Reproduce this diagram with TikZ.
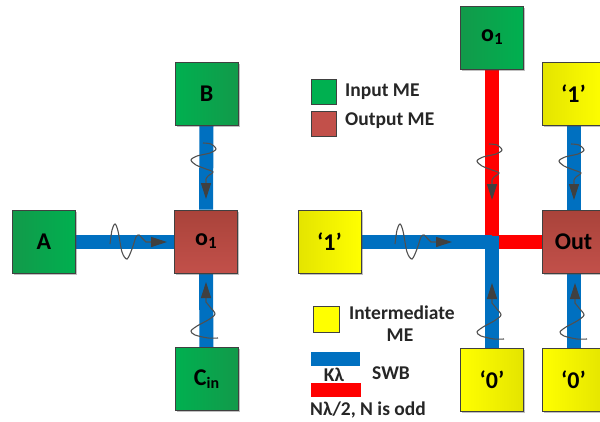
\documentclass[tikz,border=0pt]{standalone}
\usepackage{fontspec}
\setmainfont{Carlito}
\usetikzlibrary{shadows,arrows.meta,backgrounds}
\definecolor{gA}{HTML}{00B050}
\definecolor{gB}{HTML}{129A4A}
\definecolor{rA}{HTML}{A9433A}
\definecolor{rB}{HTML}{C2504A}
\definecolor{yA}{HTML}{FFFF00}
\definecolor{yB}{HTML}{E4E400}
\definecolor{edge}{HTML}{404040}
\definecolor{swb}{HTML}{0070C0}
\definecolor{wavec}{HTML}{505050}
\definecolor{tipc}{HTML}{404040}
\tikzset{
  me/.style={draw=edge, line width=0.8pt, minimum width=63pt, minimum height=63pt,
    inner sep=0pt, font=\fontsize{24}{24}\selectfont\bfseries,
    drop shadow={shadow xshift=1.5pt, shadow yshift=-1.5pt, opacity=0.35, fill=black!70}},
  inme/.style={me, left color=gB, right color=gA},
  inmeb/.style={me, left color=gA, right color=gB},
  outme/.style={me, top color=rA, bottom color=rB},
  midme/.style={me, left color=yB, right color=yA},
  midmeb/.style={me, left color=yA, right color=yB},
  swatch/.style={draw=edge, line width=0.8pt, inner sep=0pt, minimum size=25pt,
    drop shadow={shadow xshift=1pt, shadow yshift=-1pt, opacity=0.3, fill=black!70}},
  bluebar/.style={line width=14pt, draw=swb},
  redbar/.style={line width=14pt, draw=red, line join=miter},
  legtext/.style={anchor=west, inner sep=0pt, font=\fontsize{19.5}{21}\selectfont\bfseries, text=black!85},
  wave/.style={draw=wavec, line width=1.1pt, -{Triangle[length=16pt,width=10pt,fill=tipc,color=tipc]}},
  waveright/.pic={\draw[wave] plot[smooth] coordinates {(-57,2)(-55,-12)(-52,-18)(-49,-11)(-45,10)(-40,17)(-35,7)(-31,-5)(-28,-7)(-25,-4)(-21,0)} -- (0,0);},
  wavedown/.pic={\draw[wave] plot[smooth] coordinates {(-3,-56)(5,-55)(10,-50)(4,-46)(-9,-43)(-15,-39)(-10,-34)(0,-30)(7,-27)(2,-23)(0,-20)} -- (0,0);},
  waveup/.pic={\draw[wave] plot[smooth] coordinates {(12,56)(2,56)(-11,53)(-15,49)(-9,44)(2,38)(9,32)(4,25)(0,20)} -- (0,0);}
}
\begin{document}
\begin{tikzpicture}[x=1pt,y=-1pt]
\useasboundingbox (0,0) rectangle (600,421);
\clip (0,0) rectangle (600,421);

% left gate
\node[inme]  (A)   at (44,241.5)    {A};
\node[inmeb] (B)   at (206.5,94)  {B};
\node[outme] (o1)  at (206,241.5)   {o\raisebox{-3pt}{\fontsize{17}{17}\selectfont 1}};
\node[inmeb] (Cin) at (206.5,379) {C\raisebox{-3pt}{\fontsize{16}{16}\selectfont in}};

% right gate
\node[midme]  (one1)  at (329.5,241.5) {‘1’};
\node[inme]   (o1t)   at (492,37.5)  {o\raisebox{-3pt}{\fontsize{17}{17}\selectfont 1}};
\node[midme]  (one2)  at (573.5,94)  {‘1’};
\node[outme]  (Out)   at (573.5,241.5) {Out};
\node[midmeb] (zero1) at (492,379.5) {‘0’};
\node[midmeb] (zero2) at (573.5,379.5) {‘0’};
\coordinate (J)  at (492,241.5);
\coordinate (Jt) at (492,236);

\begin{scope}[on background layer]
  \fill[white] (0,0) rectangle (600,421);
  \draw[bluebar] (A.east) -- (o1.west);
  \draw[bluebar] (B.south) -- (o1.north);
  \draw[bluebar] (Cin.north) -- (o1.south);
  \draw[redbar] (o1t.south) -- (J) -- (Out.west);
  \draw[bluebar] (one1.east) -- (J);
  \draw[bluebar] (zero1.north) -- (Jt);
  \draw[bluebar] (one2.south) -- (Out.north);
  \draw[bluebar] (zero2.north) -- (Out.south);
\end{scope}

% waves
\pic at (167,242) {waveright};
\pic at (206,199) {wavedown};
\pic at (206,282) {waveup};
\pic at (452,242) {waveright};
\pic at (492,200) {wavedown};
\pic at (574,200) {wavedown};
\pic at (492,283) {waveup};
\pic at (575,283) {waveup};

% legend
\node[swatch, fill=gA] (lg) at (323.5,91.5) {};
\node[legtext] (lgt) at (345,92) {Input ME};
\node[swatch, fill=rB] (lr) at (323.5,123.5) {};
\node[legtext] (lrt) at (345,121) {Output ME};
\node[swatch, fill=yA, minimum size=26pt] (ly) at (326,319) {};
\node[legtext] (lyt) at (349,313) {Intermediate};
\node[legtext, anchor=center] (lyt2) at (400,335.5) {ME};
\node[fill=swb, inner sep=0pt, minimum width=49pt, minimum height=14pt] (lb) at (335.5,359) {};
\node[legtext, anchor=center] (lbt) at (334,375) {Kλ};
\node[legtext] (swbt) at (372,373) {SWB};
\node[fill=red, inner sep=0pt, minimum width=50pt, minimum height=14pt] (lrb) at (336,390) {};
\node[legtext] (lrbt) at (310,410) {Nλ/2, N is odd};
\end{tikzpicture}
\end{document}
